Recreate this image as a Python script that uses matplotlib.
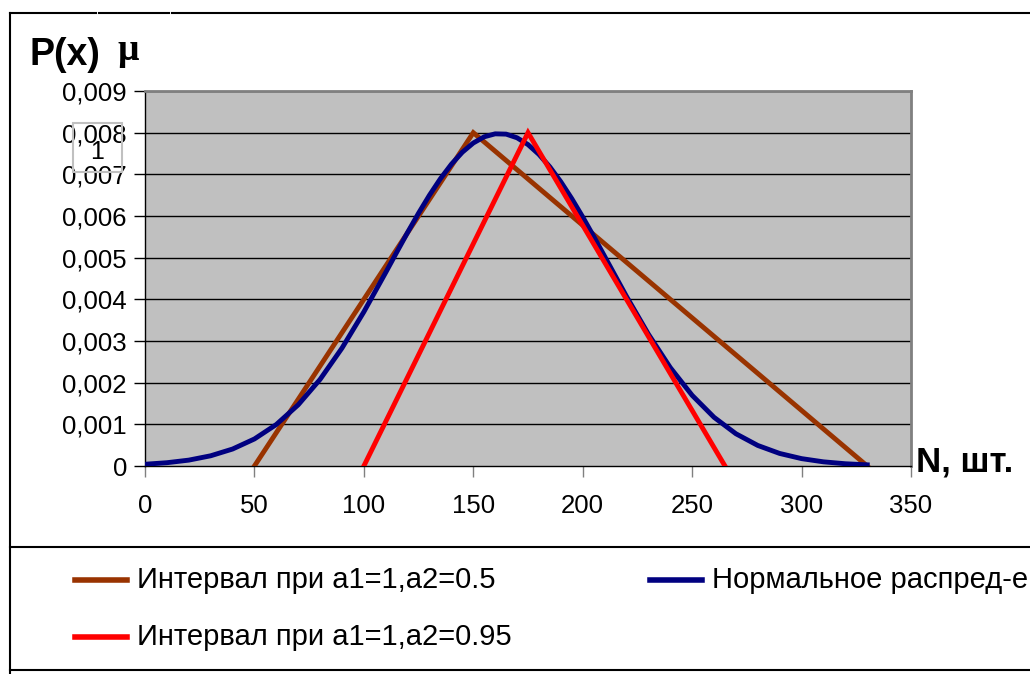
import matplotlib
matplotlib.use('Agg')
import matplotlib.pyplot as plt
from matplotlib.lines import Line2D
from matplotlib.patches import Rectangle

plt.rcParams['font.family'] = ['Liberation Sans', 'DejaVu Sans']

# interval a1=1, a2=0.5
x_05 = [50, 150, 330]
y_05 = [0, 0.008, 0]

# interval a1=1, a2=0.95
x_095 = [100, 175, 265]
y_095 = [0, 0.008, 0]

# normal distribution
x_norm = [0, 10, 20, 30, 40, 50, 60, 70, 80, 90, 100, 110, 115, 120, 125, 130, 135, 140,
          145, 150, 155, 160, 165, 170, 175, 180, 185, 190, 195, 200, 205, 210, 220, 230,
          240, 250, 260, 270, 280, 290, 300, 310, 320, 330]
y_norm = [0.000042, 0.000079, 0.000141, 0.000245, 0.000407, 0.000649, 0.000996, 0.001468,
          0.002079, 0.002829, 0.003699, 0.004646, 0.005129, 0.005607, 0.006068, 0.006501,
          0.006896, 0.007243, 0.007531, 0.007752, 0.007901, 0.007972, 0.007965, 0.007877,
          0.007714, 0.007478, 0.007178, 0.006821, 0.006417, 0.005977, 0.005512, 0.005033,
          0.004071, 0.003165, 0.002363, 0.001696, 0.001169, 0.000774, 0.000493, 0.000301,
          0.000177, 0.000100, 0.000054, 0.000028]

x_ticks = [0, 50, 100, 150, 200, 250, 300, 350]
y_ticks = [0, 0.001, 0.002, 0.003, 0.004, 0.005, 0.006, 0.007, 0.008, 0.009]
y_labels = ['0', '0,001', '0,002', '0,003', '0,004', '0,005', '0,006', '0,007', '0,008', '0,009']

labels = ['Интервал при a1=1,a2=0.5', 'Интервал при a1=1,a2=0.95', 'Нормальное распред-е']
colors = ['#993300', '#FF0000', '#000080']

W, H = 1030, 674
fig = plt.figure(figsize=(W / 100, H / 100), dpi=100)

def px(x0, y0, x1, y1):
    return [x0 / W, 1 - y1 / H, (x1 - x0) / W, (y1 - y0) / H]

ax = fig.add_axes(px(145, 91, 911, 466))
ax.set_facecolor('#C0C0C0')
ax.set_xlim(0, 350)
ax.set_ylim(0, 0.009)

for y in y_ticks[1:]:
    ax.axhline(y, color='black', lw=1, zorder=1)

ax.plot(x_05, y_05, color=colors[0], lw=3.5, zorder=3, solid_joinstyle='miter')
ax.plot(x_norm, y_norm, color=colors[2], lw=3.5, zorder=3)
ax.plot(x_095, y_095, color=colors[1], lw=3.5, zorder=4, solid_joinstyle='miter')

ax.set_xticks(x_ticks)
ax.set_xticklabels([str(v) for v in x_ticks], fontsize=18.5)
ax.set_yticks(y_ticks)
ax.set_yticklabels(y_labels, fontsize=18.5)
ax.tick_params(axis='x', direction='out', length=8, width=1, color='#808080', pad=12)
ax.tick_params(axis='y', direction='out', length=8, width=1, color='black', pad=5)

for s in ['top', 'right']:
    ax.spines[s].set_color('#808080')
    ax.spines[s].set_linewidth(2)
for s in ['left', 'bottom']:
    ax.spines[s].set_color('black')
    ax.spines[s].set_linewidth(1)

# axis titles
fig.text(29 / W, 1 - 55 / H, 'P(x)', fontsize=27, fontweight='bold', va='center', ha='left')
fig.text(117 / W, 1 - 50 / H, 'μ', fontsize=27, fontweight='bold', va='center', ha='left',
         family=['Liberation Serif', 'DejaVu Serif'])
fig.text(916 / W, 1 - 462 / H, 'N, шт.', fontsize=25, fontweight='bold', va='center', ha='left')

# small box with "1"
fig.patches.append(Rectangle((73 / W, 1 - 172 / H), 49 / W, 49 / H, transform=fig.transFigure,
                             fill=False, edgecolor='#C0C0C0', lw=1.5))
fig.text(97 / W, 1 - 152 / H, '1', fontsize=18, ha='center', va='center')

# outer frame lines
def fline(x0, y0, x1, y1, c='black', lw=1.5):
    fig.lines.append(Line2D([x0 / W, x1 / W], [1 - y0 / H, 1 - y1 / H],
                            transform=fig.transFigure, color=c, lw=lw))

fline(10, 13, 96, 13)
fline(99, 13, 169, 13)
fline(172, 13, 1030, 13)
fline(10, 13, 10, 674)
fline(10, 547, 1030, 547)
fline(10, 670, 1030, 670)

# legend
leg_items = [(75, 580, 0), (75, 637, 1), (650, 580, 2)]
for lx, ly, i in leg_items:
    fline(lx, ly, lx + 52, ly, c=colors[i], lw=4)
    fig.text((lx + 62) / W, 1 - ly / H, labels[i], fontsize=21, va='center', ha='left')

fig.savefig('out.png', dpi=100)
